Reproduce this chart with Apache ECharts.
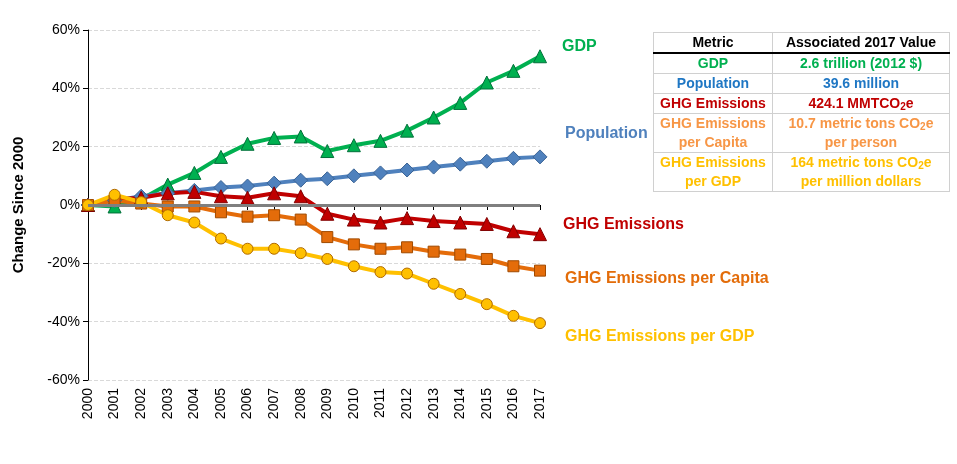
<!DOCTYPE html>
<html>
<head>
<meta charset="utf-8">
<script src="https://cdn.jsdelivr.net/npm/echarts@6/dist/echarts.min.js"></script>
<style>
  body { margin: 0; background: #fff; font-family: "Liberation Sans", Arial, sans-serif; }
  #chart { width: 957px; height: 464px; }
  table { position: absolute; left: 653px; top: 32px; border-collapse: collapse; font-weight: bold; font-size: 14px; text-align: center; }
  td, th { border: 1px solid #d0d0d0; padding: 0 3px; line-height: 19px; }
  th { border-bottom: 2px solid #000; color: #000; }
  sub { font-size: 10px; line-height: 0; vertical-align: -2px; }
</style>
</head>
<body>
<div id="chart"></div>
<table>
  <tr><th style="width:112px">Metric</th><th style="width:170px">Associated 2017 Value</th></tr>
  <tr style="color:#00b050"><td>GDP</td><td>2.6 trillion (2012 $)</td></tr>
  <tr style="color:#1f77c4"><td>Population</td><td>39.6 million</td></tr>
  <tr style="color:#c00000"><td>GHG Emissions</td><td>424.1 MMTCO<sub>2</sub>e</td></tr>
  <tr style="color:#f79646"><td>GHG Emissions<br>per Capita</td><td>10.7 metric tons CO<sub>2</sub>e<br>per person</td></tr>
  <tr style="color:#ffc000"><td>GHG Emissions<br>per GDP</td><td>164 metric tons CO<sub>2</sub>e<br>per million dollars</td></tr>
</table>
<script>
const years = ['2000','2001','2002','2003','2004','2005','2006','2007','2008','2009','2010','2011','2012','2013','2014','2015','2016','2017']
const gdp = [0, -0.5, 2, 7, 11, 16.5, 21, 23, 23.5, 18.5, 20.5, 22, 25.5, 30, 35, 42, 46, 51]
const population = [0, 1.5, 3, 4, 5, 6, 6.5, 7.5, 8.5, 9, 10, 11, 12, 13, 14, 15, 16, 16.5]
const ghg = [0, 2, 2.5, 4, 4.5, 3, 2.5, 4, 3, -3, -5, -6, -4.5, -5.5, -6, -6.5, -9, -10]
const perCapita = [0, 1.5, 0.5, -0.5, -0.5, -2.5, -4, -3.5, -5, -11, -13.5, -15, -14.5, -16, -17, -18.5, -21, -22.5]
const perGdp = [0, 3.5, 1, -3.5, -6, -11.5, -15, -15, -16.5, -18.5, -21, -23, -23.5, -27, -30.5, -34, -38, -40.5]

const chart = echarts.init(document.getElementById('chart'))

const mkSeries = (name, data, color, symbol, border, size) => ({
  name, type: 'line', data, symbol, symbolSize: size,
  lineStyle: { color, width: 4 },
  itemStyle: { color, borderColor: border, borderWidth: 1 },
  z: 3
})

const labels = [
  ['GDP', 562, 48, '#00b050'],
  ['Population', 565, 135, '#4f81bd'],
  ['GHG Emissions', 563, 226, '#c00000'],
  ['GHG Emissions per Capita', 565, 280, '#e36c09'],
  ['GHG Emissions per GDP', 565, 338, '#ffc000']
]

chart.setOption({
  animation: false,
  textStyle: { fontFamily: 'Liberation Sans' },
  grid: { left: 88, right: 417, top: 30, bottom: 84 },
  xAxis: {
    type: 'category', data: years, boundaryGap: false,
    axisLine: { lineStyle: { color: '#000' } },
    axisTick: { show: true, alignWithLabel: true, lineStyle: { color: '#000' } },
    axisLabel: { rotate: 90, color: '#000', fontSize: 14, interval: 0 }
  },
  yAxis: {
    type: 'value', min: -60, max: 60, interval: 20,
    name: 'Change Since 2000', nameLocation: 'middle', nameGap: 62,
    nameTextStyle: { fontWeight: 'bold', fontSize: 15, color: '#000' },
    axisLine: { show: true, lineStyle: { color: '#000' } },
    axisTick: { show: true, lineStyle: { color: '#000' } },
    axisLabel: { formatter: '{value}%', color: '#000', fontSize: 14 },
    splitLine: { lineStyle: { color: '#d9d9d9', type: 'dashed' } }
  },
  graphic: labels.map(([text, x, y, color]) => ({
    type: 'text', left: x, top: y - 9,
    style: { text, fill: color, font: 'bold 16px "Liberation Sans"' }
  })),
  series: [
    Object.assign(mkSeries('GDP', gdp, '#00b050', 'triangle', '#00703a', 13), {
      markLine: {
        silent: true, symbol: 'none', label: { show: false },
        lineStyle: { color: '#7f7f7f', width: 3, type: 'solid' },
        data: [{ yAxis: 0 }]
      }
    }),
    mkSeries('Population', population, '#4f81bd', 'diamond', '#3a6395', 14),
    mkSeries('GHG Emissions', ghg, '#c00000', 'triangle', '#800000', 13),
    mkSeries('GHG Emissions per Capita', perCapita, '#e46c0a', 'rect', '#a04a00', 11),
    mkSeries('GHG Emissions per GDP', perGdp, '#ffc000', 'circle', '#b06a00', 11)
  ]
})
</script>
</body>
</html>
